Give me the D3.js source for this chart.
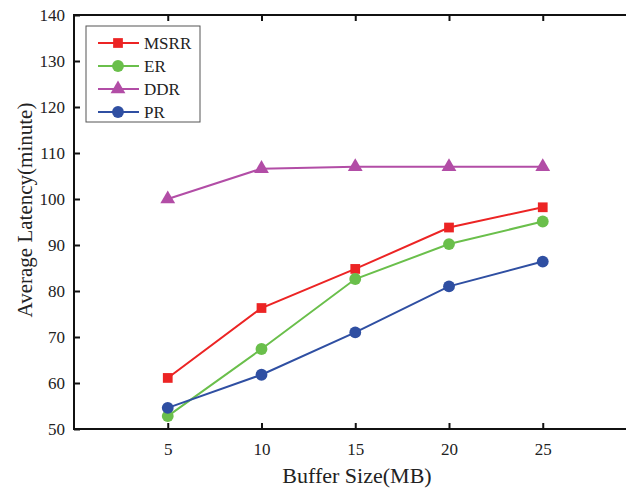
<!DOCTYPE html>
<html>
<head>
<meta charset="utf-8">
<style>
body { margin: 0; background: #fff; }
text { font-family: "Liberation Serif", "Times New Roman", serif; fill: #222; }
</style>
</head>
<body>
<svg width="626" height="491"></svg>
<script src="https://cdnjs.cloudflare.com/ajax/libs/d3/7.8.5/d3.min.js"></script>
<script>
// data
var bufferSizes = [5, 10, 15, 20, 25];
var msrr = [61.1, 76.3, 84.8, 93.8, 98.2];
var er   = [52.8, 67.4, 82.6, 90.2, 95.1];
var ddr  = [100.0, 106.6, 107.0, 107.0, 107.0];
var pr   = [54.6, 61.8, 71.0, 81.0, 86.4];
var seriesNames = ["MSRR", "ER", "DDR", "PR"];
var yTicks = [50, 60, 70, 80, 90, 100, 110, 120, 130, 140];

var series = [
  {name: "MSRR", values: msrr, color: "#ec2424", symbol: d3.symbolSquare, size: 95},
  {name: "ER",   values: er,   color: "#6abf4b", symbol: d3.symbolCircle, size: 110},
  {name: "DDR",  values: ddr,  color: "#b24da6", symbol: d3.symbolTriangle, size: 95},
  {name: "PR",   values: pr,   color: "#2f4fa2", symbol: d3.symbolCircle, size: 110}
];

var svg = d3.select("svg"),
    margin = {left: 74, top: 15},
    plotW = 562.5, plotH = 414;

var x = d3.scaleLinear().domain([0, 30]).range([margin.left, margin.left + plotW]);
var y = d3.scaleLinear().domain([50, 140]).range([margin.top + plotH, margin.top]);

var g = svg.append("g");

// frame
g.append("rect")
  .attr("x", x(0)).attr("y", y(140))
  .attr("width", plotW).attr("height", plotH)
  .attr("fill", "none").attr("stroke", "#111").attr("stroke-width", 2);

// bottom axis (ticks pointing inward)
var xb = g.append("g")
  .attr("transform", "translate(0," + y(50) + ")")
  .call(d3.axisBottom(x).tickValues(bufferSizes).tickSizeInner(-6).tickSizeOuter(0).tickPadding(14));
xb.select(".domain").remove();
xb.selectAll("line").attr("stroke", "#111").attr("stroke-width", 2);
xb.selectAll("text").attr("font-size", 17).attr("fill", "#222");

// top axis ticks
var xt = g.append("g")
  .attr("transform", "translate(0," + y(140) + ")")
  .call(d3.axisTop(x).tickValues(bufferSizes).tickSizeInner(-6).tickSizeOuter(0).tickFormat(""));
xt.select(".domain").remove();
xt.selectAll("line").attr("stroke", "#111").attr("stroke-width", 2);

// left axis
var yl = g.append("g")
  .attr("transform", "translate(" + x(0) + ",0)")
  .call(d3.axisLeft(y).tickValues(yTicks).tickSizeInner(-6).tickSizeOuter(0).tickPadding(9));
yl.select(".domain").remove();
yl.selectAll("line").attr("stroke", "#111").attr("stroke-width", 2);
yl.selectAll("text").attr("font-size", 17).attr("fill", "#222");

// axis titles
svg.append("text")
  .attr("x", 357).attr("y", 483)
  .attr("text-anchor", "middle")
  .attr("font-size", 22)
  .text("Buffer Size(MB)");

svg.append("text")
  .attr("transform", "translate(32,210) rotate(-90)")
  .attr("text-anchor", "middle")
  .attr("font-size", 21)
  .text("Average Latency(minute)");

// lines and markers
var line = d3.line()
  .x(function(d, i) { return x(bufferSizes[i]); })
  .y(function(d) { return y(d); });

series.forEach(function(s) {
  g.append("path")
    .datum(s.values)
    .attr("fill", "none")
    .attr("stroke", s.color)
    .attr("stroke-width", 2)
    .attr("d", line);

  g.selectAll(null)
    .data(s.values)
    .enter().append("path")
      .attr("transform", function(d, i) { return "translate(" + x(bufferSizes[i]) + "," + y(d) + ")"; })
      .attr("d", d3.symbol().type(s.symbol).size(s.size))
      .attr("fill", s.color);
});

// legend
var legend = svg.append("g");
legend.append("rect")
  .attr("x", 86).attr("y", 26)
  .attr("width", 114).attr("height", 96)
  .attr("fill", "#fff").attr("stroke", "#555").attr("stroke-width", 1);

var items = legend.selectAll("g.item")
  .data(series)
  .enter().append("g")
    .attr("class", "item")
    .attr("transform", function(d, i) { return "translate(0," + (43 + i * 23) + ")"; });

items.append("line")
  .attr("x1", 98).attr("x2", 139)
  .attr("stroke", function(d) { return d.color; })
  .attr("stroke-width", 2);

items.append("path")
  .attr("transform", "translate(118,0)")
  .attr("d", function(d) { return d3.symbol().type(d.symbol).size(d.size)(); })
  .attr("fill", function(d) { return d.color; });

items.append("text")
  .attr("x", 144).attr("dy", "0.35em")
  .attr("font-size", 17)
  .text(function(d, i) { return seriesNames[i]; });
</script>
</body>
</html>
